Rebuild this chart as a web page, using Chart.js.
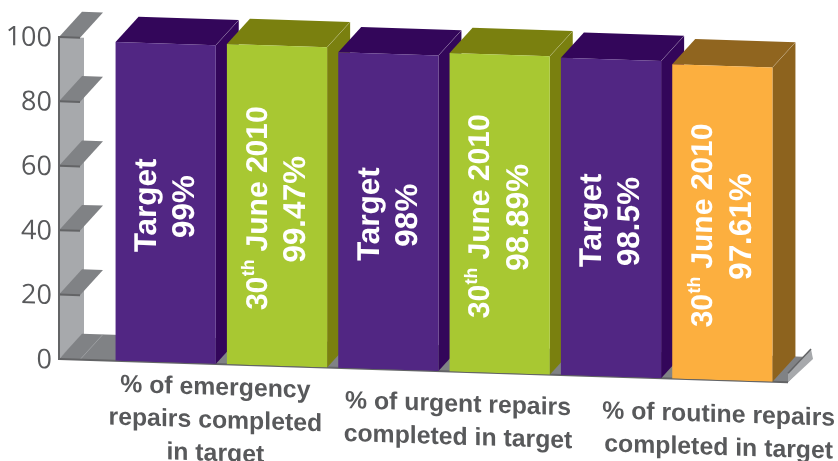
<!DOCTYPE html>
<html>
<head>
<meta charset="utf-8">
<style>
  html, body { margin: 0; padding: 0; background: #fff; }
  canvas { display: block; }
</style>
<script src="https://cdn.jsdelivr.net/npm/chart.js@4"></script>
</head>
<body>
<canvas id="repairs" width="838" height="461"></canvas>
<script>
var categories = ["Target", "30th June 2010", "Target", "30th June 2010", "Target", "30th June 2010"];
var values = [99, 99.47, 98, 98.89, 98.5, 97.61];
var yTicks = [0, 20, 40, 60, 80, 100];
var groupLabels = [
	["% of emergency", "repairs completed", "in target"],
	["% of urgent repairs", "completed in target"],
	["% of routine repairs", "completed in target"]
];

var frontColors = ["#512683", "#a8c832", "#512683", "#a8c832", "#512683", "#fcaf3f"];
var topColors   = ["#33065a", "#7a800f", "#33065a", "#7a800f", "#33065a", "#90651f"];
var sideColors  = ["#33065a", "#7a800f", "#33065a", "#7a800f", "#33065a", "#8d631e"];

var slope = 0.032   // the whole picture leans down to the right
  , originX = 60
  , depthX = 23
  , depthY = 26
  , wallGap = 51    // from the plot's left edge back to the axis line
  , grey = "#636466"
  , wallGrey = "#a7a9ac"
  , shelfGrey = "#808285";

// where each group label sits relative to the middle of its two bars
var groupShift = [-6, 14, 52]
  , groupTop = [383, 392, 394];

function poly(ctx, pts, fill) {
	ctx.beginPath();
	pts.forEach(function (p, i) {
		if (i) ctx.lineTo(p[0], p[1]);
		else ctx.moveTo(p[0], p[1]);
	});
	ctx.closePath();
	ctx.fillStyle = fill;
	ctx.fill();
}

function line(ctx, x1, y1, x2, y2, color, width) {
	ctx.beginPath();
	ctx.moveTo(x1, y1);
	ctx.lineTo(x2, y2);
	ctx.strokeStyle = color;
	ctx.lineWidth = width;
	ctx.stroke();
}

var leanPlugin = {
	id: "lean",
	beforeDraw: function (chart) {
		var ctx = chart.ctx;
		ctx.save();
		ctx.transform(1, slope, 0, 1, 0, -slope * originX);
	},
	afterDraw: function (chart) {
		chart.ctx.restore();
	}
};

var framePlugin = {
	id: "frame",
	beforeDatasetsDraw: function (chart) {
		var ctx = chart.ctx
		  , y = chart.scales.y
		  , area = chart.chartArea
		  , left = area.left - wallGap
		  , right = area.right + 10
		  , base = y.getPixelForValue(0)
		  , top = y.getPixelForValue(100);

		// side wall
		poly(ctx, [[left, top], [left + 25, top], [left + 25, base - depthY], [left, base]], wallGrey);
		// floor
		poly(ctx, [[left, base], [left + depthX, base - depthY], [right + depthX, base - depthY], [right, base]], shelfGrey);
		// lip at the right end of the floor
		poly(ctx, [[right, base], [right, base - 9], [right + depthX, base - depthY - 8], [right + depthX + 2, base - depthY + 2]], wallGrey);
		line(ctx, right, base - 9, right + depthX, base - depthY - 8, grey, 1.5);
		line(ctx, left + 21, base, left + 21 + depthX, base - depthY, "#a7a9ac", 0.7);

		// shelves at the ticks
		yTicks.forEach(function (t) {
			if (t === 0) return;
			var p = y.getPixelForValue(t);
			poly(ctx, [[left, p], [left + 21, p], [left + 21 + depthX, p - depthY], [left + depthX, p - depthY]], shelfGrey);
			line(ctx, left, p, left + 21, p, grey, 2);
		});
		line(ctx, left, top - 1, left, base + 1, grey, 2);
		line(ctx, left, base, right, base, grey, 2);

		// back faces of the bars, left to right, so each one covers the last
		chart.getDatasetMeta(0).data.forEach(function (bar, i) {
			var l = bar.x - bar.width / 2
			  , r = bar.x + bar.width / 2;
			poly(ctx, [[r, bar.y], [r + depthX, bar.y - depthY], [r + depthX, bar.base - depthY], [r, bar.base]], sideColors[i]);
			poly(ctx, [[l, bar.y], [l + depthX, bar.y - depthY], [r + depthX, bar.y - depthY], [r, bar.y]], topColors[i]);
			line(ctx, r, bar.y, r + depthX, bar.y - depthY, "rgba(255,255,255,0.25)", 0.7);
		});
	}
};

function drawTitle(ctx, text, font, smallFont) {
	var m = text.match(/^(\d+)(th)(.*)$/);
	if (!m) {
		ctx.font = font;
		ctx.textAlign = "center";
		ctx.fillText(text, 0, 0);
		return;
	}
	ctx.font = font;
	var w1 = ctx.measureText(m[1]).width
	  , w3 = ctx.measureText(m[3]).width;
	ctx.font = smallFont;
	var w2 = ctx.measureText(m[2]).width
	  , x = -(w1 + w2 + w3) / 2;
	ctx.textAlign = "left";
	ctx.font = font;
	ctx.fillText(m[1], x, 0);
	ctx.fillText(m[3], x + w1 + w2, 0);
	ctx.font = smallFont;
	ctx.fillText(m[2], x + w1, -9);
}

var textPlugin = {
	id: "texts",
	afterDatasetsDraw: function (chart) {
		var ctx = chart.ctx
		  , bars = chart.getDatasetMeta(0).data;

		bars.forEach(function (bar, i) {
			ctx.save();
			ctx.fillStyle = "#fff";
			ctx.textBaseline = "middle";
			ctx.translate(bar.x - 18.5, (bar.y + bar.base) / 2 + 3);
			ctx.rotate(-Math.PI / 2);
			var big = categories[i] === "Target" ? 31.5 : 30;
			drawTitle(ctx, categories[i], "bold " + big + "px 'Liberation Sans'", "bold 18px 'Liberation Sans'");
			ctx.restore();

			ctx.save();
			ctx.fillStyle = "#fff";
			ctx.textBaseline = "middle";
			ctx.textAlign = "center";
			ctx.translate(bar.x + 19.5, (bar.y + bar.base) / 2 + 3);
			ctx.rotate(-Math.PI / 2);
			ctx.font = "bold 31.5px 'Liberation Sans'";
			ctx.fillText(values[i] + "%", 0, 0);
			ctx.restore();
		});

		ctx.save();
		ctx.fillStyle = "#58595b";
		ctx.font = "bold 24.8px 'Liberation Sans'";
		ctx.textAlign = "center";
		ctx.textBaseline = "middle";
		groupLabels.forEach(function (lines, g) {
			var cx = (bars[g * 2].x + bars[g * 2 + 1].x) / 2 + groupShift[g];
			lines.forEach(function (text, n) {
				ctx.fillText(text, cx, groupTop[g] + n * 33);
			});
		});
		ctx.restore();
	}
};

new Chart(document.getElementById("repairs").getContext("2d"), {
	type: "bar",
	data: {
		labels: categories,
		datasets: [{
			data: values,
			backgroundColor: frontColors,
			categoryPercentage: 1,
			barPercentage: 0.9
		}]
	},
	options: {
		responsive: false,
		animation: false,
		layout: { padding: { left: 7, right: 60, top: 37, bottom: 102 } },
		plugins: { legend: { display: false }, tooltip: { enabled: false } },
		scales: {
			x: { display: false },
			y: {
				min: 0,
				max: 100,
				afterBuildTicks: function (scale) {
					scale.ticks = yTicks.map(function (v) { return { value: v }; });
				},
				afterFit: function (scale) {
					// the big tick padding would otherwise be added above and below the plot too
					scale.width = 103;
					scale.paddingTop = 0;
					scale.paddingBottom = 0;
				},
				grid: { display: false, drawTicks: false },
				border: { display: false },
				ticks: {
					padding: 58,
					labelOffset: 2,
					color: "#58595b",
					font: { family: "'Open Sans'", size: 27 }
				}
			}
		}
	},
	plugins: [leanPlugin, framePlugin, textPlugin]
});
</script>
</body>
</html>
